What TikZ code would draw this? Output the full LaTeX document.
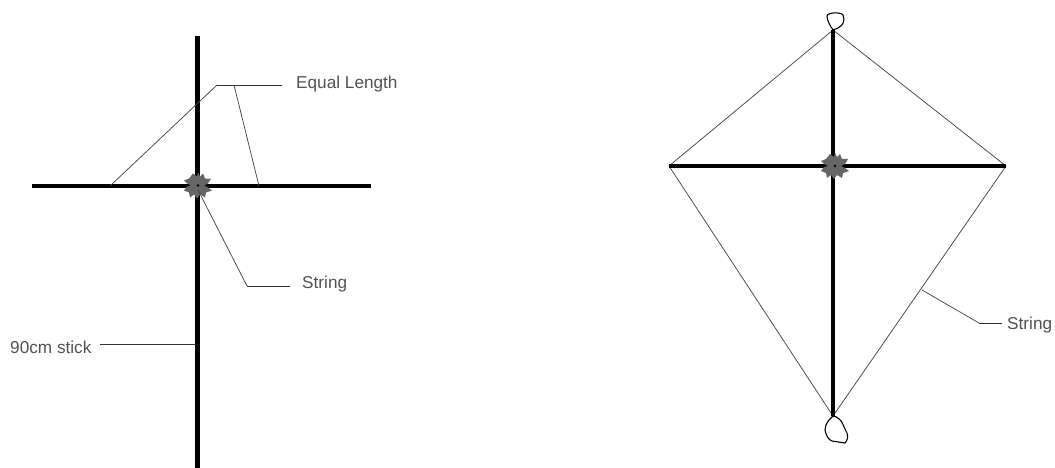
\documentclass[tikz,border=0pt]{standalone}
\usepackage{fontspec}
\setmainfont{Liberation Sans}
\tikzset{
  stick/.style={line width=4.4pt,black},
  thread/.style={line width=0.75pt,black!72},
  lead/.style={line width=0.9pt,black!80},
  lab/.style={font=\fontsize{17.2}{18}\selectfont,text=black!68,inner sep=0pt,anchor=west},
  loopline/.style={line width=1.1pt,black},
  knot/.style={fill=black!60,draw=none},
  pics/gear/.style={code={
    \fill[knot] (-5,-12) -- (-1,-9) -- (0,-13) -- (2,-9) -- (5,-12) -- (7,-7) -- (13,-7) -- (10,-2) -- (6,0) -- (10,2) -- (14,5) -- (8,7) -- (7,12) -- (2,9) -- (-1,13) -- (-4,9) -- (-8,12) -- (-9,7) -- (-14,5) -- (-11,1) -- (-7,0) -- (-11,-2) -- (-14,-5) -- (-9,-7) -- cycle;
    \fill[black] (0,0) circle (1.3);
  }}
}
\begin{document}
\begin{tikzpicture}[x=1pt,y=-1pt]
\useasboundingbox (0,0) rectangle (1055,468);
% Left figure
\coordinate (Ltop) at (197.5,36);
\coordinate (Lbot) at (197.5,468);
\coordinate (Lleft) at (32,186);
\coordinate (Lright) at (371,186);
\draw[stick] (Ltop) -- (Lbot);
\draw[stick] (Lleft) -- (Lright);
\pic at (198,185.5) {gear};
\coordinate (EqA) at (110,186);
\coordinate (EqB) at (217,85);
\coordinate (EqC) at (234,85);
\coordinate (EqD) at (259,186);
\coordinate (EqE) at (282,85);
\node[lab] (eq) at (296,84) {Equal Length};
\draw[thread] (EqA) -- (EqB);
\draw[lead] (EqB) -- (EqE);
\draw[thread] (EqC) -- (EqD);
\coordinate (StA) at (198,190);
\coordinate (StB) at (247,286);
\coordinate (StC) at (290,286);
\node[lab] (st) at (302,284) {String};
\draw[thread] (StA) -- (StB);
\draw[lead] (StB) -- (StC);
\node[lab] (nc) at (10,347) {90cm stick};
\coordinate (NcA) at (100,344);
\coordinate (NcB) at (196,344);
\draw[lead] (NcA) -- (NcB);
% Right figure
\coordinate (Rtop) at (833,30);
\coordinate (Rbot) at (833,416);
\coordinate (Rleft) at (669,166);
\coordinate (Rright) at (1006,166);
\draw[thread] (Rtop) -- (Rleft) -- (Rbot) -- (Rright) -- cycle;
\draw[stick] (Rtop) -- (Rbot);
\draw[stick] (Rleft) -- (Rright);
\pic at (835,166) {gear};
\draw[loopline] (Rtop) .. controls (831,27) and (827,21) .. (827,16) .. controls (828,12) and (841,12) .. (843,15) .. controls (845,20) and (844,25) .. (838,28) -- (Rtop);
\draw[loopline] (Rbot) .. controls (830,419) and (825,423) .. (825,430) .. controls (826,436) and (829,440) .. (832,441) -- (845,443) .. controls (848,440) and (848,436) .. (847,433) .. controls (844,428) and (842,420) .. (839,419) .. controls (837,417) and (835,416) .. (Rbot);
\coordinate (SrA) at (922,290);
\coordinate (SrB) at (979,323);
\coordinate (SrC) at (1002,323);
\node[lab] (sr) at (1007,325) {String};
\draw[thread] (SrA) -- (SrB);
\draw[lead] (SrB) -- (SrC);
\end{tikzpicture}
\end{document}
